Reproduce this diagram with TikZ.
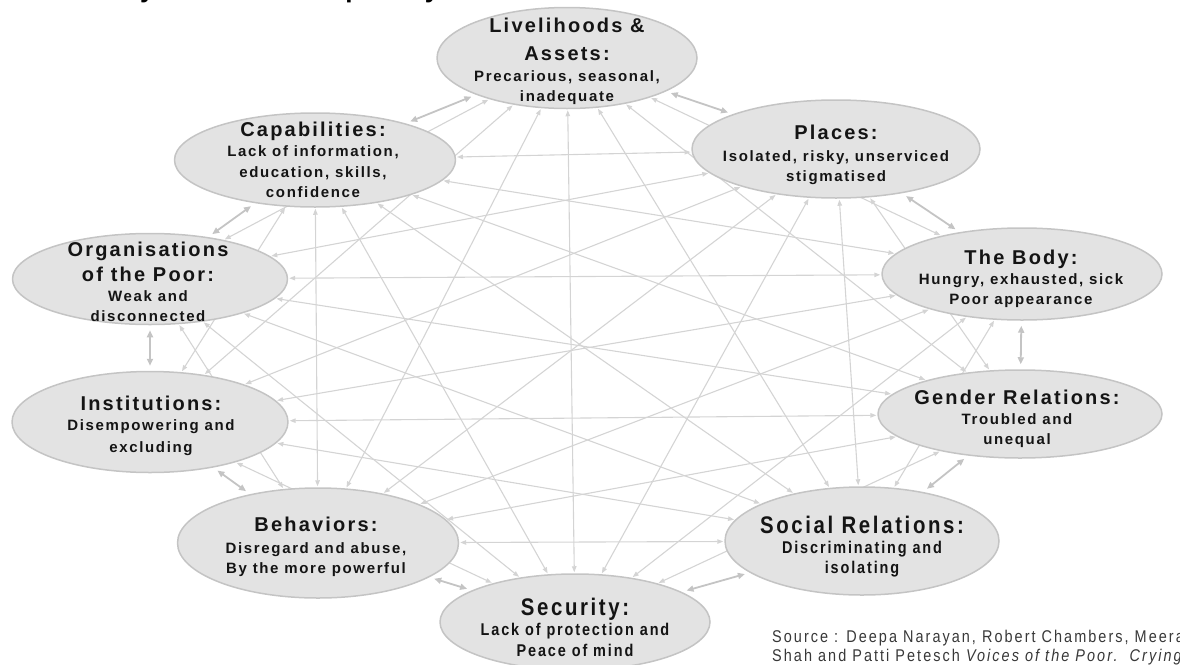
\documentclass[tikz,border=0pt]{standalone}
\usepackage{fontspec}
\setmainfont{Liberation Sans}
\newfontfamily\bubblefont[LetterSpace=11]{Liberation Sans}
\newfontfamily\narrowfont[FakeStretch=0.85,LetterSpace=11]{Liberation Sans}
\newfontfamily\sourcefont[FakeStretch=0.85,LetterSpace=12]{Liberation Sans}
\usetikzlibrary{shapes.geometric}
\usetikzlibrary{arrows.meta}
\usetikzlibrary{backgrounds}
\definecolor{bubblefill}{rgb}{0.89,0.89,0.89}
\definecolor{bubbleline}{rgb}{0.77,0.77,0.77}
\definecolor{linkgray}{rgb}{0.83,0.83,0.83}
\definecolor{nbrgray}{rgb}{0.77,0.77,0.77}
\definecolor{sourcegray}{rgb}{0.22,0.22,0.22}
\newcommand{\hd}{\fontsize{20}{20}\selectfont}
\newcommand{\hdn}{\fontsize{24}{20}\selectfont}

\begin{document}
\begin{tikzpicture}[line cap=round,line join=round,x=1pt,y=-1pt,
  bubble/.style={ellipse,draw=bubbleline,line width=1.5pt,fill=bubblefill,inner sep=0pt},
  bubbletext/.style={align=center,inner sep=0pt,text=black!92,font=\bubblefont\bfseries\fontsize{15}{20}\selectfont},
  narrowtext/.style={align=center,inner sep=0pt,text=black!92,font=\narrowfont\bfseries\fontsize{17}{20}\selectfont},
  link/.style={draw=linkgray,line width=1.1pt,{Triangle[length=6pt,width=4.5pt]}-{Triangle[length=6pt,width=4.5pt]},shorten <=1pt,shorten >=1pt},
  nbr/.style={draw=nbrgray,line width=1.8pt,{Triangle[length=7pt,width=6pt]}-{Triangle[length=7pt,width=6pt]},shorten <=5pt,shorten >=5pt}]
\useasboundingbox (0,0) rectangle (1180,664);
\clip (0,0) rectangle (1180,664);
% title, cut by the top edge
\node[anchor=base west,inner sep=0pt,font=\bfseries\fontsize{26}{26}\selectfont] (title) at (88,-3) {Many dimensions of poverty};
% the ten bubbles
\node[bubble,minimum width=260,minimum height=101] (liv) at (567,58) {};
\node[bubble,minimum width=288,minimum height=98] (plc) at (836,149) {};
\node[bubble,minimum width=280,minimum height=92] (body) at (1022,274) {};
\node[bubble,minimum width=284,minimum height=88] (gend) at (1020,414) {};
\node[bubble,minimum width=274,minimum height=108] (soc) at (862,541) {};
\node[bubble,minimum width=270,minimum height=96] (sec) at (575,622) {};
\node[bubble,minimum width=281,minimum height=110] (beh) at (318,543) {};
\node[bubble,minimum width=276,minimum height=101] (inst) at (150,422) {};
\node[bubble,minimum width=275,minimum height=91] (org) at (150,279) {};
\node[bubble,minimum width=281,minimum height=94] (cap) at (315,160) {};
\node[bubbletext] (liv-t) at (567,60.9) {{\hd Livelihoods \&}\\[8pt]{\hd Assets:}\\[1pt]Precarious, seasonal,\\inadequate};
\node[bubbletext] (plc-t) at (836,155.3) {{\hd Places:}\\[2pt]Isolated, risky, unserviced\\stigmatised};
\node[bubbletext] (body-t) at (1021,278.4) {{\hd The Body:}\\Hungry, exhausted, sick\\Poor appearance};
\node[bubbletext] (gend-t) at (1017,418.9) {{\hd Gender Relations:}\\Troubled and\\unequal};
\node[narrowtext] (soc-t) at (862,546.4) {{\hdn Social Relations:}\\Discriminating and\\isolating};
\node[narrowtext] (sec-t) at (575,627) {{\hdn Security:}\\Lack of protection and\\[1pt]Peace of mind};
\node[bubbletext] (beh-t) at (316,546.4) {{\hd Behaviors:}\\[2pt]Disregard and abuse,\\By the more powerful};
\node[bubbletext] (inst-t) at (151,425.4) {{\hd Institutions:}\\Disempowering and\\[2pt]excluding};
\node[bubbletext] (org-t) at (148,282.3) {{\hd Organisations}\\[5pt]{\hd of the Poor:}\\Weak and\\disconnected};
\node[bubbletext] (cap-t) at (313,160.3) {{\hd Capabilities:}\\Lack of information,\\[1pt]education, skills,\\confidence};
% source
\node[anchor=north west,inner sep=0pt,align=left,text=sourcegray,font=\sourcefont\fontsize{17}{19}\selectfont] (src) at (772,629.5) {Source : Deepa Narayan, Robert Chambers, Meera\\Shah and Patti Petesch \textit{Voices of the Poor.~~Crying}};
% connectors
\begin{scope}[on background layer]
\foreach \a/\b in {liv/body,liv/gend,liv/soc,liv/sec,liv/beh,liv/inst,liv/org,
  plc/gend,plc/soc,plc/sec,plc/beh,plc/inst,plc/org,plc/cap,
  body/soc,body/sec,body/beh,body/inst,body/org,body/cap,
  gend/sec,gend/beh,gend/inst,gend/org,gend/cap,
  soc/beh,soc/inst,soc/org,soc/cap,
  sec/inst,sec/org,sec/cap,
  beh/org,beh/cap,
  inst/cap}
  \draw[link] (\a) -- (\b);
\foreach \a/\b in {liv/plc,plc/body,body/gend,gend/soc,soc/sec,sec/beh,beh/inst,inst/org,org/cap,cap/liv}
  \draw[nbr] (\a) -- (\b);
\end{scope}
\end{tikzpicture}
\end{document}
